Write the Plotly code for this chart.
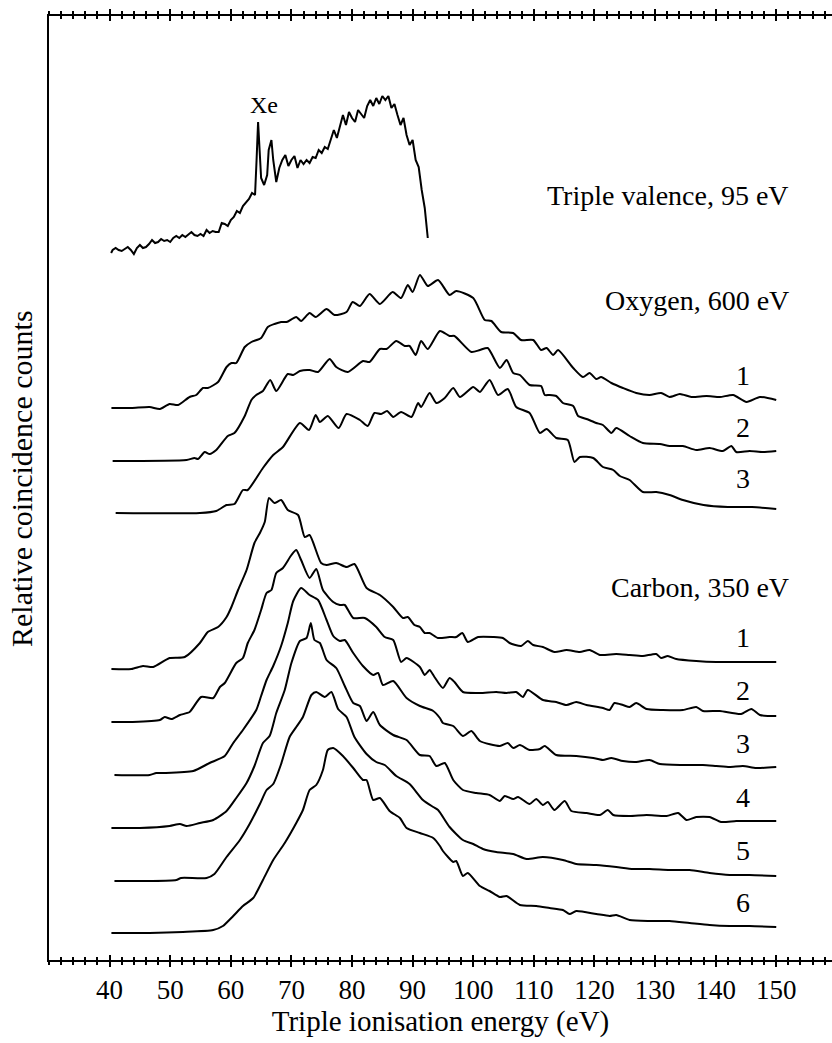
import plotly.graph_objects as go

# ---------------- data (energy in eV, intensity in arbitrary counts above each trace's baseline)
tv_e = [40.25, 40.5, 41, 41.5, 42, 42.5, 43, 43.5, 44, 44.5,
        45, 45.5, 46, 46.5, 47, 47.5, 48, 48.5, 49, 49.5,
        50, 50.5, 51, 51.5, 52, 52.5, 53, 53.5, 54, 54.5,
        55, 55.5, 56, 56.5, 57, 57.5, 58, 58.5, 59, 59.5,
        60, 60.5, 61, 61.5, 62, 62.5, 63, 63.5, 64, 64.25,
        64.5, 64.75, 65, 65.5, 66, 66.25, 66.7, 67, 67.5, 68,
        68.5, 69, 69.5, 70, 70.5, 71, 71.5, 72, 72.5, 73,
        73.5, 74, 74.5, 75, 75.5, 76, 76.5, 77, 77.5, 78,
        78.5, 79, 79.5, 80, 80.5, 81, 81.5, 82, 82.5, 83,
        83.5, 84, 84.5, 85, 85.5, 86, 86.5, 87, 87.5, 88,
        88.5, 89, 89.5, 90, 90.5, 91, 91.5, 92, 92.5]
tv_h = [2, 5, 7, 5, 4, 6, 8, 5, 1, 7,
        10, 7, 8, 11, 15, 12, 13, 16, 14, 15,
        13, 17, 19, 17, 20, 18, 21, 23, 20, 19,
        21, 19, 25, 22, 24, 23, 23, 32, 31, 29,
        35, 38, 44, 42, 49, 52, 56, 62, 60, 95,
        133, 105, 77, 70, 80, 105, 115, 95, 73, 87,
        95, 100, 89, 95, 99, 87, 95, 91, 95, 92,
        98, 97, 105, 102, 108, 106, 115, 125, 117, 128,
        140, 130, 143, 137, 133, 145, 141, 137, 149, 155,
        149, 157, 151, 159, 155, 159, 147, 151, 140, 130,
        137, 120, 110, 115, 95, 88, 65, 47, 17]

o1_e = [40.3, 43.6, 46.6, 48.3, 49.9, 51.3, 53.2, 54.3, 55.4, 56.2,
        57.9, 59.3, 60.1, 60.9, 62.3, 63.4, 65.0, 66.1, 67.2, 68.3,
        69.2, 70.8, 71.6, 73.0, 74.0, 75.8, 77.1, 79.1, 80.1, 81.3,
        82.9, 84.6, 86.7, 88.1, 89.2, 90.0, 91.2, 92.5, 94.2, 96.1,
        97.2, 100.0, 101.9, 103.0, 104.6, 106.6, 107.9, 109.9, 111.2, 112.1,
        113.2, 114.0, 116.5, 118.1, 119.2, 120.3, 121.1, 122.8, 124.7, 126.9,
        129.1, 131.0, 132.4, 134.1, 136.0, 138.5, 140.7, 142.9, 145.1, 147.3,
        150.0]
o1_h = [0, 0, 1, -1, 4, 3, 11, 13, 20, 20,
        26, 41, 45, 45, 61, 66, 70, 81, 84, 86,
        86, 91, 87, 95, 91, 99, 93, 96, 106, 102,
        114, 104, 116, 110, 123, 116, 133, 122, 128, 113,
        117, 110, 88, 87, 76, 75, 68, 68, 58, 60,
        53, 58, 40, 31, 35, 29, 31, 25, 20, 15,
        13, 15, 11, 14, 11, 12, 11, 13, 6, 11,
        8]

o2_e = [40.5, 52.7, 54.0, 54.6, 55.7, 56.5, 57.6, 59.5, 60.6, 62.3,
        63.4, 64.2, 65.3, 66.5, 67.5, 69.4, 70.3, 71.4, 73.0, 74.4,
        76.3, 77.4, 79.3, 81.8, 82.9, 84.6, 85.7, 87.3, 88.7, 89.5,
        90.5, 91.4, 92.5, 94.5, 96.1, 96.9, 99.7, 101.1, 102.4, 104.4,
        105.5, 106.6, 107.7, 109.3, 111.2, 111.8, 112.6, 113.7, 114.8, 116.5,
        117.3, 118.7, 120.3, 121.4, 122.8, 123.6, 125.8, 128.0, 130.8, 132.4,
        134.6, 136.8, 139.0, 141.2, 142.6, 143.4, 145.6, 147.8, 150.0]
o2_h = [0, 1, 3, 2, 9, 7, 11, 25, 28, 45,
        61, 66, 70, 81, 70, 87, 86, 90, 91, 89,
        102, 94, 89, 100, 99, 112, 112, 120, 115, 115,
        106, 120, 112, 130, 125, 125, 109, 111, 113, 93,
        101, 88, 86, 76, 75, 66, 66, 65, 58, 55,
        45, 42, 38, 36, 28, 33, 25, 18, 17, 15,
        15, 11, 13, 10, 15, 9, 10, 9, 10]

o3_e = [41.0, 54.9, 57.6, 59.3, 60.6, 62.0, 62.8, 65.3, 67.0, 68.6,
        71.4, 72.9, 74.0, 74.7, 76.0, 77.8, 79.1, 81.3, 82.6, 83.7,
        84.8, 85.8, 86.8, 88.1, 89.8, 90.9, 91.4, 92.8, 93.9, 95.3,
        96.7, 97.8, 100.0, 101.1, 102.7, 104.1, 105.7, 107.1, 109.3, 111.0,
        112.1, 113.7, 115.6, 116.7, 117.6, 119.8, 121.4, 123.1, 124.2, 125.8,
        128.0, 130.2, 132.4, 134.6, 138.0, 142.0, 146.0, 150.0]
o3_h = [0, 0, 2, 8, 9, 23, 23, 45, 58, 66,
        90, 83, 98, 91, 97, 85, 99, 93, 87, 100,
        99, 102, 96, 101, 96, 110, 106, 120, 110, 115,
        125, 116, 126, 121, 133, 118, 124, 106, 100, 80,
        84, 75, 73, 51, 56, 55, 46, 43, 37, 33,
        21, 21, 18, 13, 8, 6, 6, 4]

c1_e = [40.3, 43.6, 45.5, 47.2, 49.9, 52.4, 54.9, 56.2, 57.9, 59.3,
        60.1, 61.2, 62.6, 63.9, 64.8, 65.6, 66.3, 67.2, 68.3, 69.4,
        71.1, 72.2, 73.0, 74.9, 75.8, 77.4, 79.1, 80.4, 82.4, 84.6,
        86.8, 88.4, 89.2, 90.3, 91.2, 92.0, 92.8, 94.2, 96.1, 97.2,
        98.2, 99.1, 100.8, 103.3, 104.9, 106.0, 107.9, 109.0, 109.9, 111.5,
        113.4, 115.4, 117.6, 119.2, 120.9, 123.6, 125.8, 128.0, 130.2, 131.0,
        132.1, 133.5, 136.8, 140.1, 143.4, 146.7, 150.0]
c1_h = [0, 0, 3, 2, 11, 12, 26, 37, 42, 52,
        62, 79, 99, 126, 136, 147, 171, 166, 169, 159,
        154, 132, 134, 106, 104, 106, 102, 105, 81, 74,
        62, 51, 52, 44, 42, 36, 36, 31, 32, 32,
        36, 27, 32, 32, 31, 26, 23, 28, 24, 22,
        17, 19, 17, 19, 14, 15, 14, 13, 15, 11,
        13, 10, 8, 7, 7, 7, 7]

c2_e = [40.3, 43.8, 48.3, 49.1, 50.2, 51.6, 53.2, 55.1, 57.1, 58.2,
        59.0, 60.9, 62.0, 62.8, 63.9, 65.0, 65.9, 66.7, 67.5, 68.6,
        70.0, 70.8, 71.6, 73.0, 74.1, 75.2, 76.9, 78.0, 78.8, 80.2,
        82.1, 84.0, 85.4, 86.8, 88.1, 89.0, 91.2, 92.0, 92.8, 93.6,
        95.0, 96.1, 96.9, 98.3, 101.1, 103.8, 105.5, 107.1, 108.2, 109.0,
        111.5, 113.7, 115.4, 117.0, 118.7, 121.4, 122.5, 123.3, 124.7, 125.8,
        126.9, 128.6, 131.3, 134.6, 136.8, 137.9, 140.7, 144.2, 145.9, 147.3,
        150.0]
c2_h = [0, 0, 2, 5, 3, 7, 10, 25, 24, 35,
        39, 59, 64, 79, 92, 112, 129, 132, 149, 154,
        167, 172, 162, 144, 153, 132, 120, 117, 117, 104,
        104, 95, 85, 82, 60, 64, 55, 47, 52, 45,
        34, 44, 40, 30, 29, 30, 29, 30, 25, 32,
        22, 20, 17, 20, 17, 14, 12, 19, 17, 15,
        19, 13, 12, 12, 15, 11, 11, 8, 13, 7,
        6]

c3_e = [40.8, 46.6, 47.7, 49.1, 53.8, 56.5, 59.0, 60.4, 62.0, 64.2,
        65.0, 65.9, 67.0, 68.3, 69.4, 70.3, 71.6, 73.0, 74.4, 75.8,
        76.9, 78.0, 78.8, 80.2, 81.8, 83.5, 84.3, 85.1, 86.8, 89.0,
        91.2, 93.4, 94.5, 95.0, 96.7, 98.3, 99.7, 101.1, 104.4, 105.7,
        106.6, 107.7, 109.3, 111.0, 111.8, 113.7, 117.0, 119.8, 121.4, 122.8,
        124.7, 126.9, 129.1, 130.8, 134.6, 137.9, 140.1, 142.3, 144.5, 146.7,
        150.0]
c3_h = [0, 0, 2, 2, 4, 12, 19, 32, 45, 65,
        79, 95, 109, 129, 152, 174, 187, 180, 175, 155,
        139, 134, 135, 122, 109, 100, 102, 90, 94, 77,
        69, 64, 57, 52, 49, 39, 44, 34, 29, 32,
        27, 30, 25, 26, 29, 20, 19, 17, 15, 17,
        14, 13, 15, 11, 10, 10, 9, 8, 9, 7,
        8]

c4_e = [40.3, 45.0, 49.9, 51.6, 52.7, 54.9, 57.1, 59.3, 60.9, 62.6,
        63.9, 65.3, 66.4, 67.5, 68.9, 70.0, 71.4, 72.5, 73.2, 73.8,
        74.7, 75.8, 77.4, 78.8, 80.2, 81.3, 82.4, 83.5, 84.6, 86.8,
        89.0, 91.2, 92.8, 93.9, 95.3, 96.7, 98.3, 100.5, 102.7, 104.4,
        105.2, 106.6, 107.4, 109.3, 110.4, 111.5, 112.3, 113.4, 115.1, 116.2,
        118.7, 120.9, 122.2, 123.1, 125.8, 128.6, 131.9, 133.8, 135.2, 136.8,
        139.0, 140.9, 143.4, 146.7, 150.0]
c4_h = [0, 0, 2, 4, 2, 5, 8, 17, 30, 45,
        62, 85, 92, 115, 138, 165, 187, 190, 205, 188,
        185, 168, 160, 142, 125, 122, 107, 116, 103, 93,
        88, 73, 72, 62, 65, 48, 38, 35, 33, 27,
        32, 29, 31, 24, 29, 23, 26, 18, 27, 17,
        15, 13, 18, 13, 12, 13, 12, 15, 8, 11,
        11, 6, 7, 7, 7]

c5_e = [40.8, 46.6, 51.0, 51.8, 56.0, 57.3, 59.3, 61.5, 63.1, 64.8,
        65.9, 67.0, 68.3, 69.7, 70.8, 71.9, 73.3, 74.1, 75.5, 76.6,
        77.7, 79.1, 80.4, 82.4, 84.0, 85.4, 87.3, 89.5, 91.7, 93.4,
        94.2, 96.1, 98.3, 100.0, 101.6, 103.8, 106.6, 108.8, 111.5, 114.8,
        117.0, 120.3, 123.6, 126.4, 129.1, 132.4, 135.7, 139.0, 142.3, 145.6,
        150.0]
c5_h = [0, 0, 1, 3, 3, 7, 24, 41, 57, 77,
        91, 97, 117, 144, 154, 164, 186, 189, 184, 189,
        172, 164, 144, 127, 119, 116, 105, 97, 81, 74,
        71, 54, 41, 37, 32, 29, 27, 22, 24, 21,
        17, 16, 14, 12, 12, 11, 11, 8, 6, 6,
        5]

c6_e = [40.3, 46.6, 52.1, 57.1, 58.7, 60.4, 62.0, 63.7, 65.3, 67.0,
        68.9, 70.8, 71.9, 73.0, 74.1, 75.2, 76.0, 76.9, 78.5, 80.2,
        81.8, 82.4, 83.5, 84.6, 86.2, 87.9, 89.0, 91.2, 93.4, 94.5,
        95.0, 96.7, 97.2, 98.3, 99.1, 101.1, 102.7, 104.4, 105.5, 107.7,
        110.4, 112.6, 114.8, 115.9, 117.0, 120.3, 122.5, 123.6, 125.8, 129.1,
        132.4, 135.7, 139.0, 142.3, 145.6, 150.0]
c6_h = [0, 0, 1, 3, 7, 17, 27, 35, 53, 73,
        90, 110, 123, 143, 148, 163, 183, 185, 177, 165,
        153, 153, 133, 135, 122, 115, 105, 100, 95, 87,
        82, 71, 72, 57, 60, 47, 42, 36, 37, 28,
        27, 25, 23, 19, 22, 19, 17, 18, 13, 12,
        12, 10, 8, 7, 7, 6]

# vertical offsets of the stacked spectra (counts)
offsets = {"tv": 705, "o1": 552, "o2": 499, "o3": 447,
           "c1": 291, "c2": 238, "c3": 185, "c4": 132, "c5": 79, "c6": 27}

series = [("tv", tv_e, tv_h), ("o1", o1_e, o1_h), ("o2", o2_e, o2_h), ("o3", o3_e, o3_h),
          ("c1", c1_e, c1_h), ("c2", c2_e, c2_h), ("c3", c3_e, c3_h),
          ("c4", c4_e, c4_h), ("c5", c5_e, c5_h), ("c6", c6_e, c6_h)]

tick_vals = list(range(40, 151, 10))
tick_text = [str(v) for v in tick_vals]

FONT = "Liberation Serif, Times New Roman, serif"

fig = go.Figure()
for name, e, h in series:
    off = offsets[name]
    fig.add_trace(go.Scatter(
        x=e, y=[off + v for v in h], mode="lines",
        line=dict(color="black", width=2,
                  shape="linear" if name == "tv" else "spline", smoothing=0.6),
        showlegend=False, hoverinfo="skip"))

# invisible trace to activate the overlay axis (inside ticks)
fig.add_trace(go.Scatter(x=[40], y=[0], xaxis="x2", mode="markers",
                         marker=dict(opacity=0), showlegend=False, hoverinfo="skip"))

X_RANGE = [30, 159.2]
Y_RANGE = [0, 944]

fig.update_layout(
    width=832, height=1043,
    margin=dict(l=49, r=0, t=16, b=83),
    paper_bgcolor="white", plot_bgcolor="white",
    font=dict(family=FONT, color="black", size=27),
    xaxis=dict(range=X_RANGE, showline=True, linecolor="black", linewidth=2,
               mirror="allticks", ticks="outside", ticklen=5, tickwidth=2, tickcolor="black",
               tickmode="array", tickvals=tick_vals, ticktext=tick_text,
               tickfont=dict(family=FONT, size=27, color="black"),
               minor=dict(ticks="outside", ticklen=3, tickwidth=1.5, tickcolor="black",
                          tickmode="linear", tick0=30, dtick=2, showgrid=False),
               showgrid=False, zeroline=False,
               title=dict(text="Triple ionisation energy (eV)",
                          font=dict(family=FONT, size=29, color="black"), standoff=6)),
    xaxis2=dict(range=X_RANGE, overlaying="x", side="bottom", anchor="y",
                showline=False, mirror="allticks", ticks="inside", ticklen=5, tickwidth=2,
                tickcolor="black", tickmode="array", tickvals=tick_vals,
                showticklabels=False,
                minor=dict(ticks="inside", ticklen=3, tickwidth=1.5, tickcolor="black",
                           tickmode="linear", tick0=30, dtick=2, showgrid=False),
                showgrid=False, zeroline=False),
    yaxis=dict(range=Y_RANGE, showline=True, linecolor="black", linewidth=2,
               mirror=False, ticks="", showticklabels=False, showgrid=False, zeroline=False),
)

annotations = []
def ann(text, x, y, size=28, xanchor="right", **kw):
    annotations.append(dict(text=text, x=x, y=y, xref="x", yref="y", showarrow=False,
                            xanchor=xanchor, yanchor="middle",
                            font=dict(family=FONT, size=size, color="black"), **kw))

ann("Triple valence, 95 eV", 152.4, 765)
ann("Oxygen, 600 eV", 152.4, 660)
ann("Carbon, 350 eV", 152.4, 373)
for lab, yy in zip(["1", "2", "3"], [585, 533, 482]):
    ann(lab, 144.45, yy, xanchor="center")
for lab, yy in zip(["1", "2", "3", "4", "5", "6"], [323, 270, 217, 163, 110, 58]):
    ann(lab, 144.45, yy, xanchor="center")
ann("Xe", 65.4, 855, size=24, xanchor="center")

annotations.append(dict(text="Relative coincidence counts", x=-0.0345, y=0.5106,
                        xref="paper", yref="paper", showarrow=False, textangle=-90,
                        xanchor="center", yanchor="middle",
                        font=dict(family=FONT, size=30, color="black")))
fig.update_layout(annotations=annotations)

fig.write_html("out.html")
